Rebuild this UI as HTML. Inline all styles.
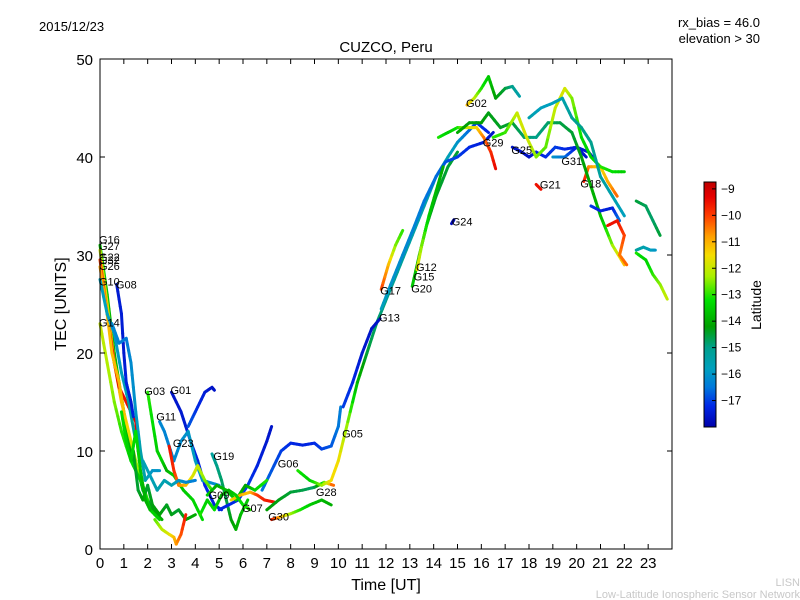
<!DOCTYPE html>
<html><head><meta charset="utf-8"><style>
body{margin:0;background:#fff}
svg{display:block;font-family:"Liberation Sans","DejaVu Sans",sans-serif}
</style></head><body>
<svg id="chart" width="800" height="600" viewBox="0 0 800 600">
<defs>
<linearGradient id="cmap" x1="0" y1="1" x2="0" y2="0"></linearGradient>
</defs>
<text x="39" y="31" font-size="13">2015/12/23</text>
<text x="760" y="27" font-size="13" text-anchor="end">rx_bias = 46.0</text>
<text x="760" y="43" font-size="13" text-anchor="end">elevation &gt; 30</text>
<text x="386" y="52" font-size="15" text-anchor="middle">CUZCO, Peru</text>
<g id="tracks"></g>
<g id="labels"></g>
<rect x="100" y="59" width="572" height="490" fill="none" stroke="#000" stroke-width="1"/>
<g id="axes"></g>
<text x="386" y="590" font-size="16" text-anchor="middle">Time [UT]</text>
<text x="0" y="0" font-size="16" text-anchor="middle" transform="translate(66,304) rotate(-90)">TEC [UNITS]</text>
<rect x="704" y="182" width="12" height="245" fill="url(#cmap)" stroke="#000" stroke-width="1"/>
<g id="cbar"></g>
<text x="0" y="0" font-size="14" text-anchor="middle" transform="translate(761,305) rotate(-90)">Latitude</text>
<text x="800" y="586" font-size="11" fill="#c8c8c8" text-anchor="end">LISN</text>
<text x="800" y="598" font-size="11" fill="#c8c8c8" text-anchor="end">Low-Latitude Ionospheric Sensor Network</text>
</svg>
<script>
const xTicks=[0,1,2,3,4,5,6,7,8,9,10,11,12,13,14,15,16,17,18,19,20,21,22,23];
const yTicks=[0,10,20,30,40,50];
const cbarTicks=[-9,-10,-11,-12,-13,-14,-15,-16,-17];
const trackNames=["G16","G27","G22","G26","G10","G08","G14","G14b","G03","G01","G01b","G11","G23","G19","G06","G06b","G09","G07","G30","G28","G05","G13","G17","G20","G15","G12","G24","G02","G29","G25","G21","G31","G18","G32","G11b","G23b","G19b","G19c","G20b","G05b","G29b","N1","N2","N3","N4","N5"];
const tracks=[
[[0,31,-13.5],[0.3,26,-13.7],[0.6,20,-14],[0.8,17,-13.5],[1,14,-14.2],[1.2,11,-13.8],[1.4,9,-14.3],[1.6,8,-14],[1.8,6,-14.5],[2.2,4,-14.3],[2.6,3,-14]],
[[0,30.5,-12],[0.3,25,-11.8],[0.6,19,-11.5],[0.9,15,-11],[1.2,12,-11.5],[1.6,8,-12.5],[2,5,-13]],
[[0,29.5,-10],[0.3,24,-9.8],[0.6,19,-9.5],[0.8,16.5,-9.2],[1.1,15,-9.5],[1.3,14,-9.3],[1.5,13,-9.3],[1.6,10,-9.5]],
[[0,28.8,-10.8],[0.3,24,-11],[0.5,20,-11.2],[0.8,17,-11],[1,14,-11.2]],
[[0,27.5,-15.8],[0.3,24,-15.8],[0.6,22,-16],[0.9,18,-15.8],[1.2,15,-15.5],[1.5,11,-15]],
[[0.7,27,-17.5],[0.9,24,-17.4],[1,20,-17.5],[1.1,17,-17.3],[1.2,16,-17.4],[1.3,15,-17.5],[1.4,13.5,-17.3]],
[[0,23,-12],[0.3,19,-12.2],[0.6,15,-12.5],[0.9,12,-13],[1.3,9,-13.2],[1.7,7,-13.5],[2.1,4,-13.4],[2.5,3,-13.5]],
[[0.5,23,-16.2],[0.8,21,-16.3],[1.1,21.5,-16.5],[1.3,19,-16.2],[1.5,14,-16],[1.7,10,-15.5],[1.9,7,-15.5],[2.2,8,-16],[2.5,8,-16]],
[[2,16,-13],[2.2,13,-13.2],[2.4,10,-13.5],[2.6,9,-13.4],[2.8,8,-14],[3.1,7.5,-13.5],[3.5,6,-13.6],[3.9,5,-13.4],[4.3,3,-13.3]],
[[3,16,-17.6],[3.4,14,-17.5],[3.8,11,-17.4],[4.1,9,-17.3],[4.4,6.5,-17.2],[4.8,4.5,-17.3],[5.1,4,-17.3]],
[[3.7,12.5,-16.8],[3.9,13.5,-16.9],[4.1,14.5,-17.2],[4.4,16,-17.4],[4.7,16.5,-17.6],[4.8,16.2,-17.6]],
[[2.5,13,-16.2],[2.7,12,-16.3],[2.9,10.5,-16.3],[3.1,9,-16.2],[3.4,11,-16.2],[3.7,12,-16],[4,9,-15.8],[4.3,7,-16],[5,6.5,-16.2]],
[[2.9,10.5,-9.5],[3.1,8,-9.8],[3.3,6.5,-10.5],[3.6,6.5,-11],[3.9,7.5,-11.8],[4.1,8.5,-12],[4.4,7,-12.5],[4.7,6,-13]],
[[4.7,9.7,-15.3],[4.9,8.5,-15],[5.1,7,-14.8],[5.3,5,-14.6],[5.5,3,-14.3],[5.7,2,-14],[5.9,3.5,-13.8],[6.2,5,-13.6]],
[[5,4,-17.3],[5.4,4.5,-17.2],[5.8,5,-17.2],[6.2,6.5,-17],[6.6,8.5,-17.3],[7,11,-17.5],[7.2,12.5,-17.6]],
[[6.8,6,-16.5],[7.2,8,-16.8],[7.6,10,-17],[8,10.8,-17.2],[8.5,10.6,-17.3],[9,10.8,-17.2],[9.3,10.2,-17],[9.7,10.5,-16.8],[10,12.5,-16.5],[10.1,14.5,-16.4]],
[[4.5,5.5,-13.5],[4.9,6.5,-14],[5.3,6,-13.8],[5.7,5,-13.5],[6.1,6.5,-14.2],[6.5,6,-13.5],[7,7,-13]],
[[5.5,5,-11.5],[5.9,5.5,-11],[6.3,5.8,-11.2],[6.6,5.5,-10],[6.9,5,-9.7],[7.3,4.8,-9.5]],
[[7.2,3,-9.5],[7.6,3.3,-11],[8,3.6,-12.3],[8.4,4,-13],[8.8,4.5,-13.5],[9.3,5,-13.8],[9.7,4.5,-14]],
[[7,4,-14.2],[7.5,5,-14.3],[8,5.8,-14.5],[8.5,6,-14.6],[9,6.3,-14.8],[9.4,6.8,-13],[9.8,6.5,-10]],
[[8.3,8,-13],[8.8,7,-13.5],[9.3,6.5,-12.5],[9.7,7,-11.5],[10,9,-11.5],[10.4,13,-12.5],[10.8,17,-13.8],[11.2,20,-14.5],[11.6,23,-14.8],[12.1,26,-15],[12.6,29,-15.2],[13.1,32,-15.4],[13.6,35,-15.5],[14.1,38,-15.5],[14.6,40,-15.6],[15,41.5,-16],[15.4,42.5,-16.5],[15.8,43.5,-17],[16.3,42.5,-17.3]],
[[10.2,14.5,-17],[10.6,17,-17.2],[11,20,-17.5],[11.4,22.5,-17.6],[11.75,23.5,-17.6]],
[[11.8,26.5,-10],[12.1,29,-11],[12.4,31,-12.5],[12.7,32.5,-13]],
[[13.1,26.8,-13.5],[13.4,30,-14],[13.7,33,-14.3],[14.1,36,-14.4],[14.6,39,-14.5],[15,40.5,-14.5]],
[[11.8,24.5,-15.8],[12.2,27,-16],[12.7,30,-16.2],[13.2,33,-16.3],[13.6,35.5,-16.5],[14.1,38,-16.6],[14.5,39.5,-16.8],[15,40,-17],[15.5,41,-17.2],[16.1,41.5,-17.4],[16.5,42.5,-17.6]],
[[13.3,28.5,-11.5],[13.5,31,-12.5],[13.8,34,-13.5],[14.1,36.5,-13.8],[14.4,39,-14]],
[[14.75,33.2,-17.8],[14.85,33.6,-17.8]],
[[15.4,45.3,-11],[15.7,46,-12],[16,47,-13],[16.3,48.2,-13.5],[16.6,46,-14.2],[17,47,-14.5],[17.3,47.2,-15],[17.6,46.2,-15.5]],
[[14.2,42,-13],[14.6,42.5,-13.5],[15,43,-13.2],[15.4,43,-12],[15.8,43,-11.5],[16.1,42,-10.5],[16.4,40.5,-9.8],[16.6,38.8,-9.4]],
[[17.3,41,-17.6],[17.7,40.5,-17.6],[18,40,-17.7],[18.3,40.5,-17.4],[18.7,40,-17.2],[19.1,41,-17],[19.5,40.8,-17.2],[20,41,-17.4],[20.4,40,-17.6]],
[[18.3,37.2,-9.5],[18.5,36.7,-9.5]],
[[19,40,-16],[19.5,40,-16.5],[20,41,-17.4],[20.5,40.5,-17.5],[20.8,39.6,-17.5]],
[[20.3,37.5,-9.5],[20.5,39,-10.5],[21,39,-11.5],[21.3,37.5,-11],[21.7,36,-10.3]],
[[15,42.5,-14],[15.5,43.5,-14.3],[16,43.5,-14.2],[16.3,44.5,-14.3],[16.8,43,-14.4],[17.3,43.5,-14.5],[17.8,42,-14.8],[18.3,42,-15],[18.8,43.5,-14.8],[19.3,43.5,-14.6],[19.8,42.5,-14.5],[20.2,40,-14.3],[20.6,37,-14],[21,34,-13.8],[21.5,31,-12.5],[22,29,-11]],
[[16.5,42,-13],[17,42.5,-13],[17.5,44.5,-12],[17.9,42,-11.8],[18.3,40,-12.5],[18.7,41,-12.8],[19.1,45,-12],[19.5,47,-11.8],[19.8,46,-12.5],[20.2,42,-13.2],[20.6,40,-13.5],[21,39,-13],[21.5,38.5,-13.2],[22,38.5,-13.5]],
[[18,44,-15.5],[18.5,45,-15.8],[19,45.5,-15.8],[19.4,46,-15.6],[19.8,44,-15.2],[20.2,43,-15],[20.6,41.5,-15],[21,38,-15.3],[21.5,36,-15.5],[22,34,-15.8]],
[[20.6,35,-17],[21,34.5,-17.3],[21.5,34.8,-17.4],[21.8,33.5,-16.5]],
[[21.3,33,-9.5],[21.7,33.5,-9.5],[22,32,-10],[21.8,30,-10.5],[22.1,29,-10.3]],
[[22.5,35.5,-14.5],[22.9,35,-14.7],[23.2,33.5,-14.8],[23.5,32,-14.5]],
[[22.5,30.5,-15.3],[22.8,30.8,-15.5],[23.1,30.5,-15.7],[23.3,30.5,-16]],
[[22.5,30.2,-13],[22.9,29.5,-13.5],[23.2,28,-13],[23.5,27,-12.5],[23.8,25.5,-12]],
[[1.4,10,-14.3],[1.6,6,-14.5],[1.8,5,-14.2],[2,6.5,-14.5],[2.2,4.5,-14.3],[2.5,3.5,-14.2],[2.8,4.5,-14.4],[3,3.5,-14.3],[3.3,4,-14.5],[3.6,3,-14.2],[4,3.5,-14]],
[[2.3,3,-12.8],[2.6,2,-12.2],[2.9,1.5,-11.8],[3.1,1.2,-11.2],[3.2,0.5,-10.8],[3.4,1.5,-10.2],[3.6,3.5,-9.6]],
[[4.2,3.5,-13],[4.5,5,-13.5],[4.8,4,-13.2],[5.1,5.5,-13.8],[5.4,6,-14],[5.7,5.5,-13.5],[6,4.5,-13.2],[6.3,4,-13]],
[[1.8,9,-15.6],[2.1,7.5,-15.8],[2.4,6,-15.5],[2.7,7,-15.6],[3,6.5,-15.5],[3.3,7,-16],[3.6,6.8,-16.2],[4,7,-16.4]],
[[0.9,14,-13.2],[1.1,11,-13.4],[1.3,9,-13.5],[1.5,12,-13.2],[1.7,8,-13.6],[1.9,5,-14],[2.1,4,-13.8]]
];
const labelNames=["G16","G27","G22","G32","G26","G10","G08","G14","G03","G01","G11","G23","G19","G06","G09","G07","G30","G28","G05","G13","G17","G20","G15","G12","G24","G02","G29","G25","G21","G31","G18"];
const labelTimes=[0,0,0,0,0,0,0.71,0,1.9,3.0,2.4,3.1,4.8,7.5,4.6,6.0,7.1,9.1,10.2,11.75,11.8,13.1,13.2,13.3,14.8,15.4,16.1,17.3,18.5,19.4,20.2];
const labelTecs=[31.6,30.9,29.8,29.5,28.9,27.3,27,23.1,16.1,16.2,13.5,10.8,9.5,8.7,5.5,4.2,3.3,5.8,11.8,23.6,26.4,26.6,27.8,28.8,33.4,45.5,41.5,40.7,37.2,39.6,37.3];

const NS="http://www.w3.org/2000/svg";
const X0=100,X1=672,Y0=549,Y1=59;
const xs=t=>X0+t/24*(X1-X0);
const ys=v=>Y0-v/50*(Y0-Y1);
const LATMIN=-18.0,LATMAX=-8.74;
const cmStops=[[-18,[0,0,170]],[-17.2,[0,40,230]],[-16.5,[0,120,220]],[-15.8,[0,160,190]],[-15,[0,160,140]],[-14.2,[0,160,0]],[-13.2,[0,225,0]],[-12.3,[170,240,0]],[-11.5,[245,220,0]],[-10.8,[255,160,0]],[-10,[255,60,0]],[-9.3,[230,0,0]],[-8.74,[190,0,0]]];
function cmap(lat){lat=Math.max(LATMIN,Math.min(LATMAX,lat));
 for(let i=0;i<cmStops.length-1;i++){const a=cmStops[i],b=cmStops[i+1];
  if(lat<=b[0]){const f=(lat-a[0])/(b[0]-a[0]);const c=a[1].map((v,k)=>Math.round(v+(b[1][k]-v)*f));return `rgb(${c})`;}}
 return 'rgb(190,0,0)';}
const grad=document.getElementById('cmap');
cmStops.forEach(s=>{const st=document.createElementNS(NS,'stop');st.setAttribute('offset',(s[0]-LATMIN)/(LATMAX-LATMIN));st.setAttribute('stop-color',`rgb(${s[1]})`);grad.appendChild(st);});
const tg=document.getElementById('tracks');
tracks.forEach((tr,i)=>{
 const g=document.createElementNS(NS,'g');
 
 
 for(let k=0;k<tr.length-1;k++){
  const a=tr[k],b=tr[k+1];const n=4;
  for(let s=0;s<n;s++){
   const f0=s/n,f1=(s+1)/n;
   const l=document.createElementNS(NS,'line');
   l.setAttribute('x1',xs(a[0]+(b[0]-a[0])*f0));l.setAttribute('y1',ys(a[1]+(b[1]-a[1])*f0));
   l.setAttribute('x2',xs(a[0]+(b[0]-a[0])*f1));l.setAttribute('y2',ys(a[1]+(b[1]-a[1])*f1));
   l.setAttribute('stroke',cmap(a[2]+(b[2]-a[2])*(f0+f1)/2));
   l.setAttribute('stroke-width','3');l.setAttribute('stroke-linecap','round');
   
   
   g.appendChild(l);
  }
 }
 tg.appendChild(g);
});
const lg=document.getElementById('labels');
labelNames.forEach((n,i)=>{
 const t=document.createElementNS(NS,'text');
 t.setAttribute('x',xs(labelTimes[i])-1);t.setAttribute('y',ys(labelTecs[i])+4);
 t.setAttribute('font-size','11');t.textContent=n;
 
 
 lg.appendChild(t);
});
const ax=document.getElementById('axes');
function mk(tag,attrs,txt){const e=document.createElementNS(NS,tag);for(const k in attrs)e.setAttribute(k,attrs[k]);if(txt!==undefined)e.textContent=txt;ax.appendChild(e);return e;}
xTicks.forEach(t=>{const x=xs(t);
 const a=mk('line',{x1:x,y1:Y0,x2:x,y2:Y0-5,stroke:'#000'});
 const b=mk('line',{x1:x,y1:Y1,x2:x,y2:Y1+5,stroke:'#000'});
 const l=mk('text',{x:x,y:568,'font-size':'15','text-anchor':'middle'},String(t));
});
yTicks.forEach(v=>{const y=ys(v);
 const a=mk('line',{x1:X0,y1:y,x2:X0+5,y2:y,stroke:'#000'});
 const b=mk('line',{x1:X1,y1:y,x2:X1-5,y2:y,stroke:'#000'});
 const l=mk('text',{x:93,y:y+6,'font-size':'15','text-anchor':'end'},String(v));
});
const cb=document.getElementById('cbar');
cbarTicks.forEach(v=>{const y=182+(LATMAX-v)/(LATMAX-LATMIN)*245;
 const a=document.createElementNS(NS,'line');a.setAttribute('x1',712);a.setAttribute('x2',716);a.setAttribute('y1',y);a.setAttribute('y2',y);a.setAttribute('stroke','#000');
 
 
 cb.appendChild(a);
 const t=document.createElementNS(NS,'text');t.setAttribute('x',721);t.setAttribute('y',y+4);t.setAttribute('font-size','12');t.textContent='\u2212'+Math.abs(v);
 
 
 cb.appendChild(t);
});
</script>
</body></html>
